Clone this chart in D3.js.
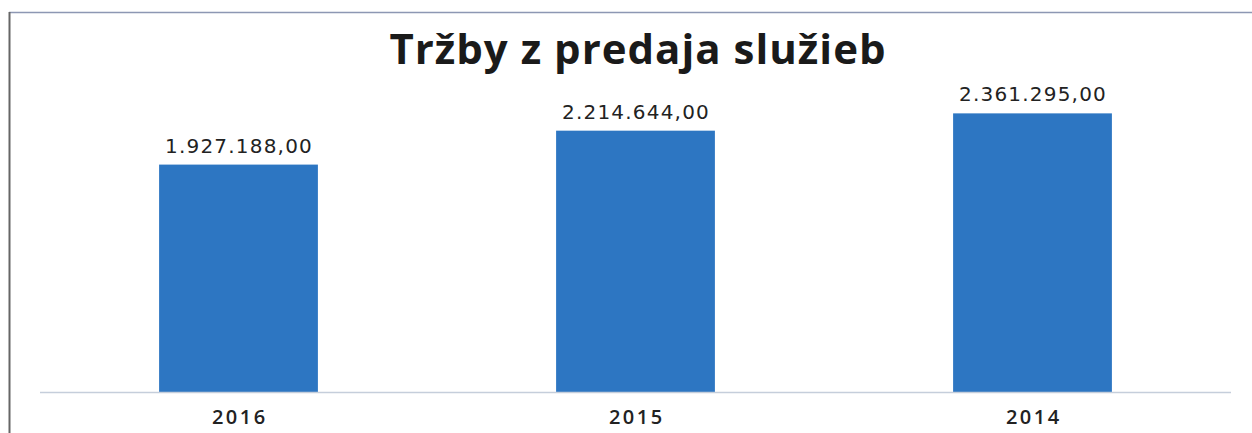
<!DOCTYPE html>
<html>
<head>
<meta charset="utf-8">
<script src="https://cdn.jsdelivr.net/npm/d3@7"></script>
<style>
  body { margin: 0; background: #fff; }
  svg { display: block; }
</style>
</head>
<body>
<div id="chart"><svg></svg></div>
<script>
// data
const years = ['2016', '2015', '2014']
const revenue = [1927188, 2214644, 2361295]
const title = 'Tržby z predaja služieb'

const width = 1252
const height = 433

const svg = d3.select('#chart').select('svg')
  .attr('width', width)
  .attr('height', height)

// frame (top + left edge of the scanned box)
svg.append('line')
  .attr('x1', 9).attr('x2', width)
  .attr('y1', 12.5).attr('y2', 12.5)
  .attr('stroke', '#8d97b3')
  .attr('stroke-width', 1.5)
svg.append('line')
  .attr('x1', 9.5).attr('x2', 9.5)
  .attr('y1', 12).attr('y2', height)
  .attr('stroke', '#666')
  .attr('stroke-width', 2)

const xScale = d3.scaleBand()
  .domain(years)
  .range([40, 1231])
  .paddingInner(0.6)
  .paddingOuter(0.3)

const yScale = d3.scaleLinear()
  .domain([0, 2500000])
  .range([392, 97])

const fmt = v => d3.format(',.2f')(v).replace(/,/g, '#').replace('.', ',').replace(/#/g, '.')

const g = svg.append('g')

g.selectAll('rect.bar')
  .data(revenue)
  .enter()
  .append('rect')
  .attr('class', 'bar')
  .attr('x', (d, i) => xScale(years[i]))
  .attr('width', xScale.bandwidth())
  .attr('y', d => yScale(d))
  .attr('height', d => yScale(0) - yScale(d))
  .attr('fill', '#2d76c2')

// baseline
g.append('line')
  .attr('x1', 40).attr('x2', 1231)
  .attr('y1', yScale(0) + 0.5).attr('y2', yScale(0) + 0.5)
  .attr('stroke', '#c5cedb')
  .attr('stroke-width', 1.5)

// value labels
g.selectAll('text.value')
  .data(revenue)
  .enter()
  .append('text')
  .attr('class', 'value')
  .attr('x', (d, i) => xScale(years[i]) + xScale.bandwidth() / 2 + 0.5)
  .attr('y', d => yScale(d) - 12)
  .attr('text-anchor', 'middle')
  .attr('font-family', 'DejaVu Sans')
  .attr('font-size', 20)
  .attr('letter-spacing', 1.2)
  .attr('fill', '#222')
  .text(fmt)

// category labels
const xAxis = d3.axisBottom(xScale).tickSize(0).tickPadding(0)
g.append('g')
  .attr('transform', 'translate(0,' + 424 + ')')
  .call(xAxis)
  .call(a => a.select('.domain').remove())
  .selectAll('text')
  .attr('font-family', 'Open Sans')
  .attr('font-size', 20)
  .attr('font-weight', 600)
  .attr('letter-spacing', 2.5)
  .attr('dx', 1.25)
  .attr('fill', '#222')
  .attr('dy', 0)

svg.append('text')
  .attr('x', 638)
  .attr('y', 64)
  .attr('text-anchor', 'middle')
  .attr('font-family', 'Open Sans')
  .attr('font-weight', 'bold')
  .attr('font-size', 42)
  .attr('letter-spacing', 1)
  .attr('fill', '#1a1a1a')
  .text(title)
</script>
</body>
</html>
